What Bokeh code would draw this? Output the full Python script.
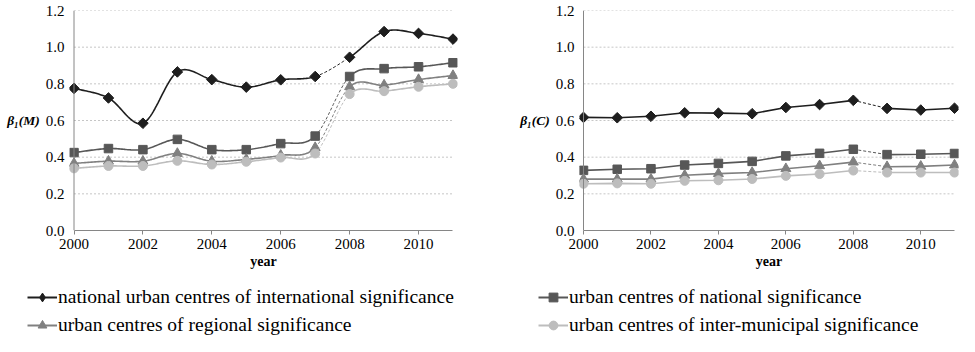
import numpy as np
from bokeh.plotting import figure
from bokeh.models import Range1d, FixedTicker, PrintfTickFormatter, Legend, LegendItem, Span, ColumnDataSource
from bokeh.layouts import row, column
from bokeh.embed import file_html
from bokeh.resources import INLINE

# ---------------- data ----------------
years = [2000, 2001, 2002, 2003, 2004, 2005, 2006, 2007, 2008, 2009, 2010, 2011]
year_ticks = [2000, 2002, 2004, 2006, 2008, 2010]
y_ticks = [0.0, 0.2, 0.4, 0.6, 0.8, 1.0, 1.2]

series_names = [
    "national urban centres of international significance",
    "urban centres of national significance",
    "urban centres of regional significance",
    "urban centres of inter-municipal significance",
]

# beta_1(M)
m_international = [0.775, 0.723, 0.585, 0.865, 0.823, 0.782, 0.822, 0.840, 0.945, 1.085, 1.075, 1.044]
m_national      = [0.425, 0.447, 0.441, 0.497, 0.441, 0.441, 0.474, 0.515, 0.840, 0.883, 0.893, 0.915]
m_regional      = [0.366, 0.378, 0.378, 0.420, 0.378, 0.388, 0.410, 0.452, 0.784, 0.793, 0.823, 0.845]
m_intermunicip  = [0.339, 0.352, 0.352, 0.380, 0.360, 0.375, 0.398, 0.420, 0.744, 0.760, 0.784, 0.800]

# beta_1(C)
c_international = [0.617, 0.615, 0.623, 0.642, 0.640, 0.637, 0.671, 0.687, 0.710, 0.666, 0.657, 0.667]
c_national      = [0.328, 0.334, 0.337, 0.357, 0.366, 0.377, 0.407, 0.421, 0.443, 0.414, 0.416, 0.420]
c_regional      = [0.280, 0.280, 0.280, 0.301, 0.310, 0.316, 0.337, 0.353, 0.373, 0.348, 0.350, 0.357]
c_intermunicip  = [0.255, 0.257, 0.255, 0.271, 0.274, 0.281, 0.298, 0.308, 0.327, 0.316, 0.316, 0.316]

# ---------------- styles ----------------
FONT = "Liberation Serif"
AXIS_COLOR = "#868686"
GRID_COLOR = "#c6c6c6"
styles = [
    dict(color="#1e1e1e", marker="square", angle=np.pi / 4, size=7.5, legend_marker="diamond"),
    dict(color="#575757", marker="square", angle=0.0, size=8.5, legend_marker="square"),
    dict(color="#808080", marker="triangle", angle=0.0, size=10, legend_marker="triangle"),
    dict(color="#bdbdbd", marker="circle", angle=0.0, size=9, legend_marker="circle"),
]


def bezier_segment(xs, ys, i, n=24):
    N = len(xs)
    p0 = (xs[max(i - 1, 0)], ys[max(i - 1, 0)])
    p1 = (xs[i], ys[i])
    p2 = (xs[i + 1], ys[i + 1])
    p3 = (xs[min(i + 2, N - 1)], ys[min(i + 2, N - 1)])
    c1 = (p1[0] + (p2[0] - p0[0]) / 6.0, p1[1] + (p2[1] - p0[1]) / 6.0)
    c2 = (p2[0] - (p3[0] - p1[0]) / 6.0, p2[1] - (p3[1] - p1[1]) / 6.0)
    t = np.linspace(0, 1, n)
    a, b, c, d = (1 - t) ** 3, 3 * (1 - t) ** 2 * t, 3 * (1 - t) * t ** 2, t ** 3
    bx = a * p1[0] + b * c1[0] + c * c2[0] + d * p2[0]
    by = a * p1[1] + b * c1[1] + c * c2[1] + d * p2[1]
    return bx, by


def path(xs, ys, a, b, smooth):
    if not smooth:
        return list(xs[a:b + 1]), list(ys[a:b + 1])
    px, py = [], []
    for i in range(a, b):
        bx, by = bezier_segment(xs, ys, i)
        if px:
            bx, by = bx[1:], by[1:]
        px.extend(bx.tolist())
        py.extend(by.tolist())
    return px, py


def make_panel(width, border_left, border_right, pad, ylabel, data, smooth, dashed):
    p = figure(
        width=width, height=280, output_backend="svg", toolbar_location=None,
        x_range=Range1d(years[0] - pad, years[-1] + pad), y_range=Range1d(y_ticks[0], y_ticks[-1]),
        min_border_left=border_left, min_border_right=border_right,
        min_border_top=10, min_border_bottom=50, outline_line_color=None,
    )
    p.xgrid.visible = False
    p.ygrid.visible = False

    # grid lines (dotted)
    p.segment(x0=years[0], x1=years[-1], y0=y_ticks[1:], y1=y_ticks[1:],
              line_color=GRID_COLOR, line_width=1, line_dash="2 2", level="underlay")
    # y axis line
    p.add_layout(Span(location=years[0], dimension="height", line_color=AXIS_COLOR, line_width=1))

    # x axis
    xa = p.xaxis[0]
    xa.bounds = (years[0], years[-1])
    xa.ticker = FixedTicker(ticks=year_ticks)
    xa.axis_line_color = AXIS_COLOR
    xa.major_tick_line_color = AXIS_COLOR
    xa.major_tick_out = 4
    xa.major_tick_in = 0
    xa.minor_tick_line_color = None
    xa.major_label_text_font = FONT
    xa.major_label_text_font_size = "15px"
    xa.major_label_text_color = "#000000"
    xa.major_label_standoff = 4
    xa.axis_label = "year"
    xa.axis_label_text_font = FONT
    xa.axis_label_text_font_style = "bold"
    xa.axis_label_text_font_size = "14px"
    xa.axis_label_text_color = "#000000"
    xa.axis_label_standoff = 2

    # y axis
    ya = p.yaxis[0]
    ya.ticker = FixedTicker(ticks=y_ticks)
    ya.formatter = PrintfTickFormatter(format="%.1f")
    ya.axis_line_color = None
    ya.major_tick_line_color = None
    ya.minor_tick_line_color = None
    ya.major_tick_out = 0
    ya.major_label_text_font = FONT
    ya.major_label_text_font_size = "15px"
    ya.major_label_text_color = "#000000"
    ya.major_label_standoff = 5
    ya.axis_label = ylabel
    ya.axis_label_text_font = FONT
    ya.axis_label_text_font_style = "bold italic"
    ya.axis_label_text_font_size = "13.5px"
    ya.axis_label_text_color = "#000000"
    ya.axis_label_standoff = 3
    try:
        ya.axis_label_orientation = "horizontal"
    except Exception:
        pass

    n = len(years)
    for vals, st in zip(data, styles):
        sx, sy = path(years, vals, 0, dashed, smooth)
        p.line(sx, sy, line_color=st["color"], line_width=1.6)
        dx, dy = path(years, vals, dashed, dashed + 1, smooth)
        p.line(dx, dy, line_color=st["color"], line_width=1, line_dash="3 2")
        ex, ey = path(years, vals, dashed + 1, n - 1, smooth)
        p.line(ex, ey, line_color=st["color"], line_width=1.6)
        p.scatter(years, vals, marker=st["marker"], angle=st["angle"], size=st["size"],
                  fill_color=st["color"], line_color=st["color"])
    return p


# left panel: 2000 near x=74, 2011 near x=452, 4.5 px padding
pad_left = 4.5 / (378.0 / 11.0)
p1 = make_panel(492, 69, 35, pad_left, "β₁(M)",
                [m_international, m_national, m_regional, m_intermunicip], True, 7)
# right panel: 2000 at x=583, 2011 at x=954, 4 px padding
pad_right = 4.0 / (371.0 / 11.0)
p2 = make_panel(467, 87, 1, pad_right, "β₁(C)",
                [c_international, c_national, c_regional, c_intermunicip], False, 8)

# ---------------- legend ----------------
pl = figure(width=959, height=56, output_backend="svg", toolbar_location=None,
            x_axis_location=None, y_axis_location=None, min_border=0,
            outline_line_color=None, x_range=Range1d(0, 1), y_range=Range1d(0, 1))
pl.xgrid.visible = False
pl.ygrid.visible = False
items = []
for name, st in zip(series_names, styles):
    src = ColumnDataSource(data=dict(x=[np.nan], y=[np.nan]))
    r1 = pl.line("x", "y", source=src, line_color=st["color"], line_width=2)
    r2 = pl.scatter("x", "y", source=src, marker=st["legend_marker"],
                    fill_color=st["color"], line_color=st["color"])
    items.append(LegendItem(label=name, renderers=[r1, r2]))


def style_legend(leg):
    leg.border_line_color = None
    leg.background_fill_alpha = 0
    leg.padding = 0
    leg.margin = 0
    leg.spacing = 6
    leg.glyph_width = 30
    leg.glyph_height = 22
    leg.label_height = 22
    leg.label_standoff = 1
    leg.label_text_font = FONT
    leg.label_text_font_size = "19.5px"
    leg.label_text_color = "#000000"


leg1 = Legend(items=[items[0], items[2]], location=(27, 0))
leg2 = Legend(items=[items[1], items[3]], location=(538, 0))
style_legend(leg1)
style_legend(leg2)
pl.add_layout(leg1)
pl.add_layout(leg2)

layout = column(row(p1, p2), pl)
open("out.html", "w").write(file_html(layout, INLINE))
